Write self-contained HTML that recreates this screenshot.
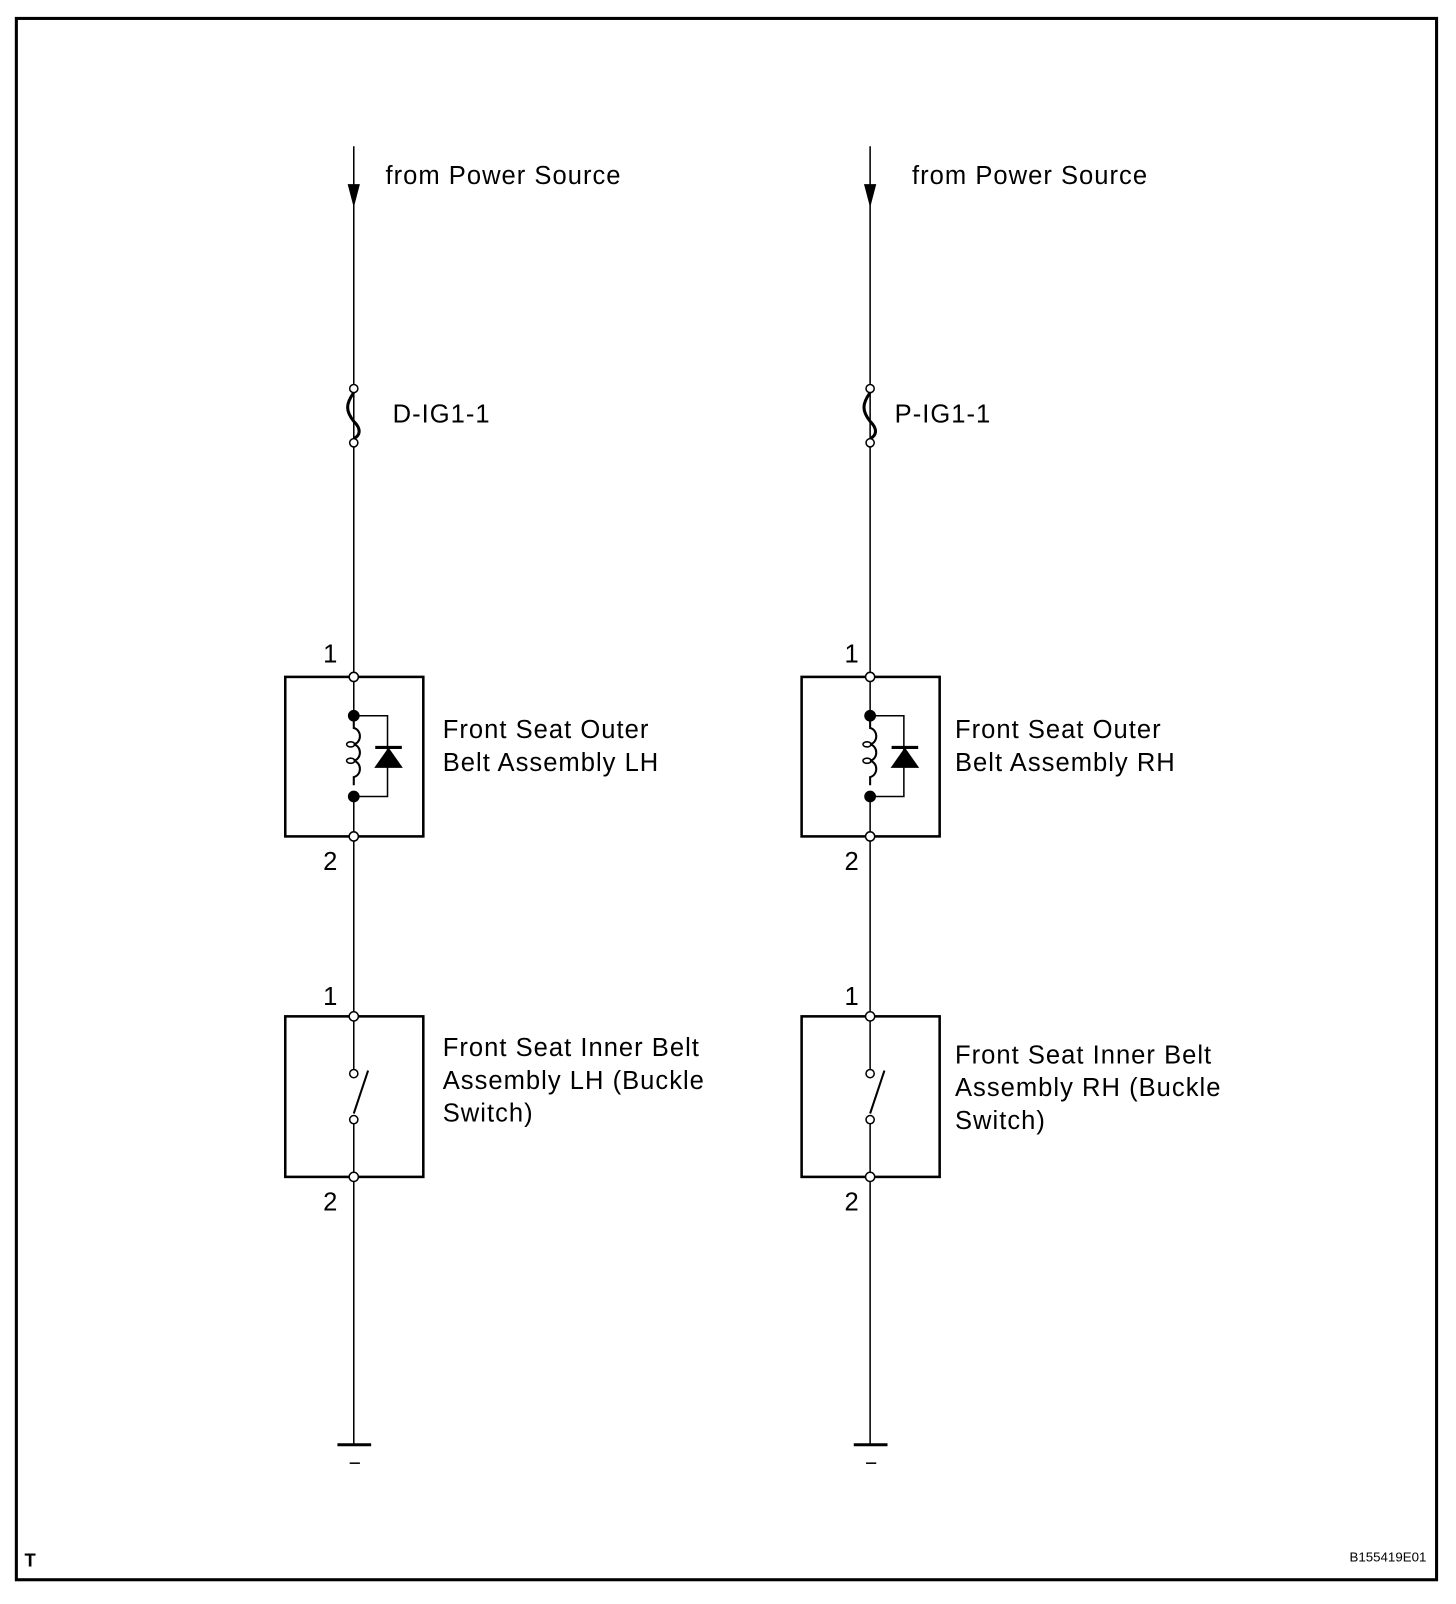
<!DOCTYPE html>
<html><head><style>html,body{margin:0;padding:0;background:#fff}svg{display:block}</style></head><body>
<svg width="1456" height="1604" viewBox="0 0 1424 1568.7" xmlns="http://www.w3.org/2000/svg" font-family="Liberation Sans, sans-serif">
<rect x="16" y="18" width="1389" height="1527" fill="none" stroke="#000" stroke-width="3"/>
<g id="L" stroke="#000" fill="none" stroke-width="1.5">
<line x1="346" y1="143" x2="346" y2="1412"/>
<polygon points="340,180 352,180 346,203" fill="#000" stroke="none"/>
<path d="M346,384 C338,395 338,402 346,412 C354,420 352,426 346,429" stroke-width="3"/>
<circle cx="346" cy="380" r="4" fill="#fff"/>
<circle cx="346" cy="433" r="4" fill="#fff"/>
<rect x="279" y="662" width="135" height="156" stroke-width="2.5"/>
<rect x="343" y="705" width="6" height="70" fill="#fff" stroke="none"/>
<path d="M346,705 v7 c8,2 8,14 0,16 c8,2 8,14 0,16 c8,2 8,14 0,16 v8" stroke-width="2"/>
<ellipse cx="343" cy="728" rx="4" ry="2.5"/>
<ellipse cx="343" cy="744" rx="4" ry="2.5"/>
<path d="M346,700 H379 V779 H346"/>
<polygon points="380,731 366,751 394,751" fill="#000" stroke="none"/>
<line x1="367" y1="731" x2="393" y2="731" stroke-width="3"/>
<circle cx="346" cy="700" r="5" fill="#000"/>
<circle cx="346" cy="779" r="5" fill="#000"/>
<circle cx="346" cy="662" r="4.5" fill="#fff"/>
<circle cx="346" cy="818" r="4.5" fill="#fff"/>
<rect x="279" y="994" width="135" height="157" stroke-width="2.5"/>
<rect x="343" y="1054" width="6" height="37" fill="#fff" stroke="none"/>
<line x1="346" y1="1089" x2="360" y2="1047" stroke-width="2"/>
<circle cx="346" cy="1050" r="4" fill="#fff"/>
<circle cx="346" cy="1095" r="4" fill="#fff"/>
<circle cx="346" cy="994" r="4.5" fill="#fff"/>
<circle cx="346" cy="1151" r="4.5" fill="#fff"/>
<line x1="330" y1="1413" x2="363" y2="1413" stroke-width="3"/>
<line x1="342" y1="1431" x2="352" y2="1431" stroke-width="1.5"/>
</g>
<use href="#L" x="505"/>
<g font-size="25" letter-spacing="1" fill="#000">
<text x="377" y="180">from Power Source</text>
<text x="892" y="180">from Power Source</text>
<text x="384" y="413">D-IG1-1</text>
<text x="875" y="413">P-IG1-1</text>
<text x="316" y="648">1</text><text x="316" y="851">2</text>
<text x="316" y="983">1</text><text x="316" y="1184">2</text>
<text x="826" y="648">1</text><text x="826" y="851">2</text>
<text x="826" y="983">1</text><text x="826" y="1184">2</text>
<text x="433" y="722">Front Seat Outer</text>
<text x="433" y="754">Belt Assembly LH</text>
<text x="934" y="722">Front Seat Outer</text>
<text x="934" y="754">Belt Assembly RH</text>
<text x="433" y="1033">Front Seat Inner Belt</text>
<text x="433" y="1065">Assembly LH (Buckle</text>
<text x="433" y="1097">Switch)</text>
<text x="934" y="1040">Front Seat Inner Belt</text>
<text x="934" y="1072">Assembly RH (Buckle</text>
<text x="934" y="1104">Switch)</text>
</g>
<text x="24" y="1532" font-size="18" font-weight="bold">T</text>
<text x="1395" y="1527" font-size="13" text-anchor="end">B155419E01</text>
</svg>
</body></html>
